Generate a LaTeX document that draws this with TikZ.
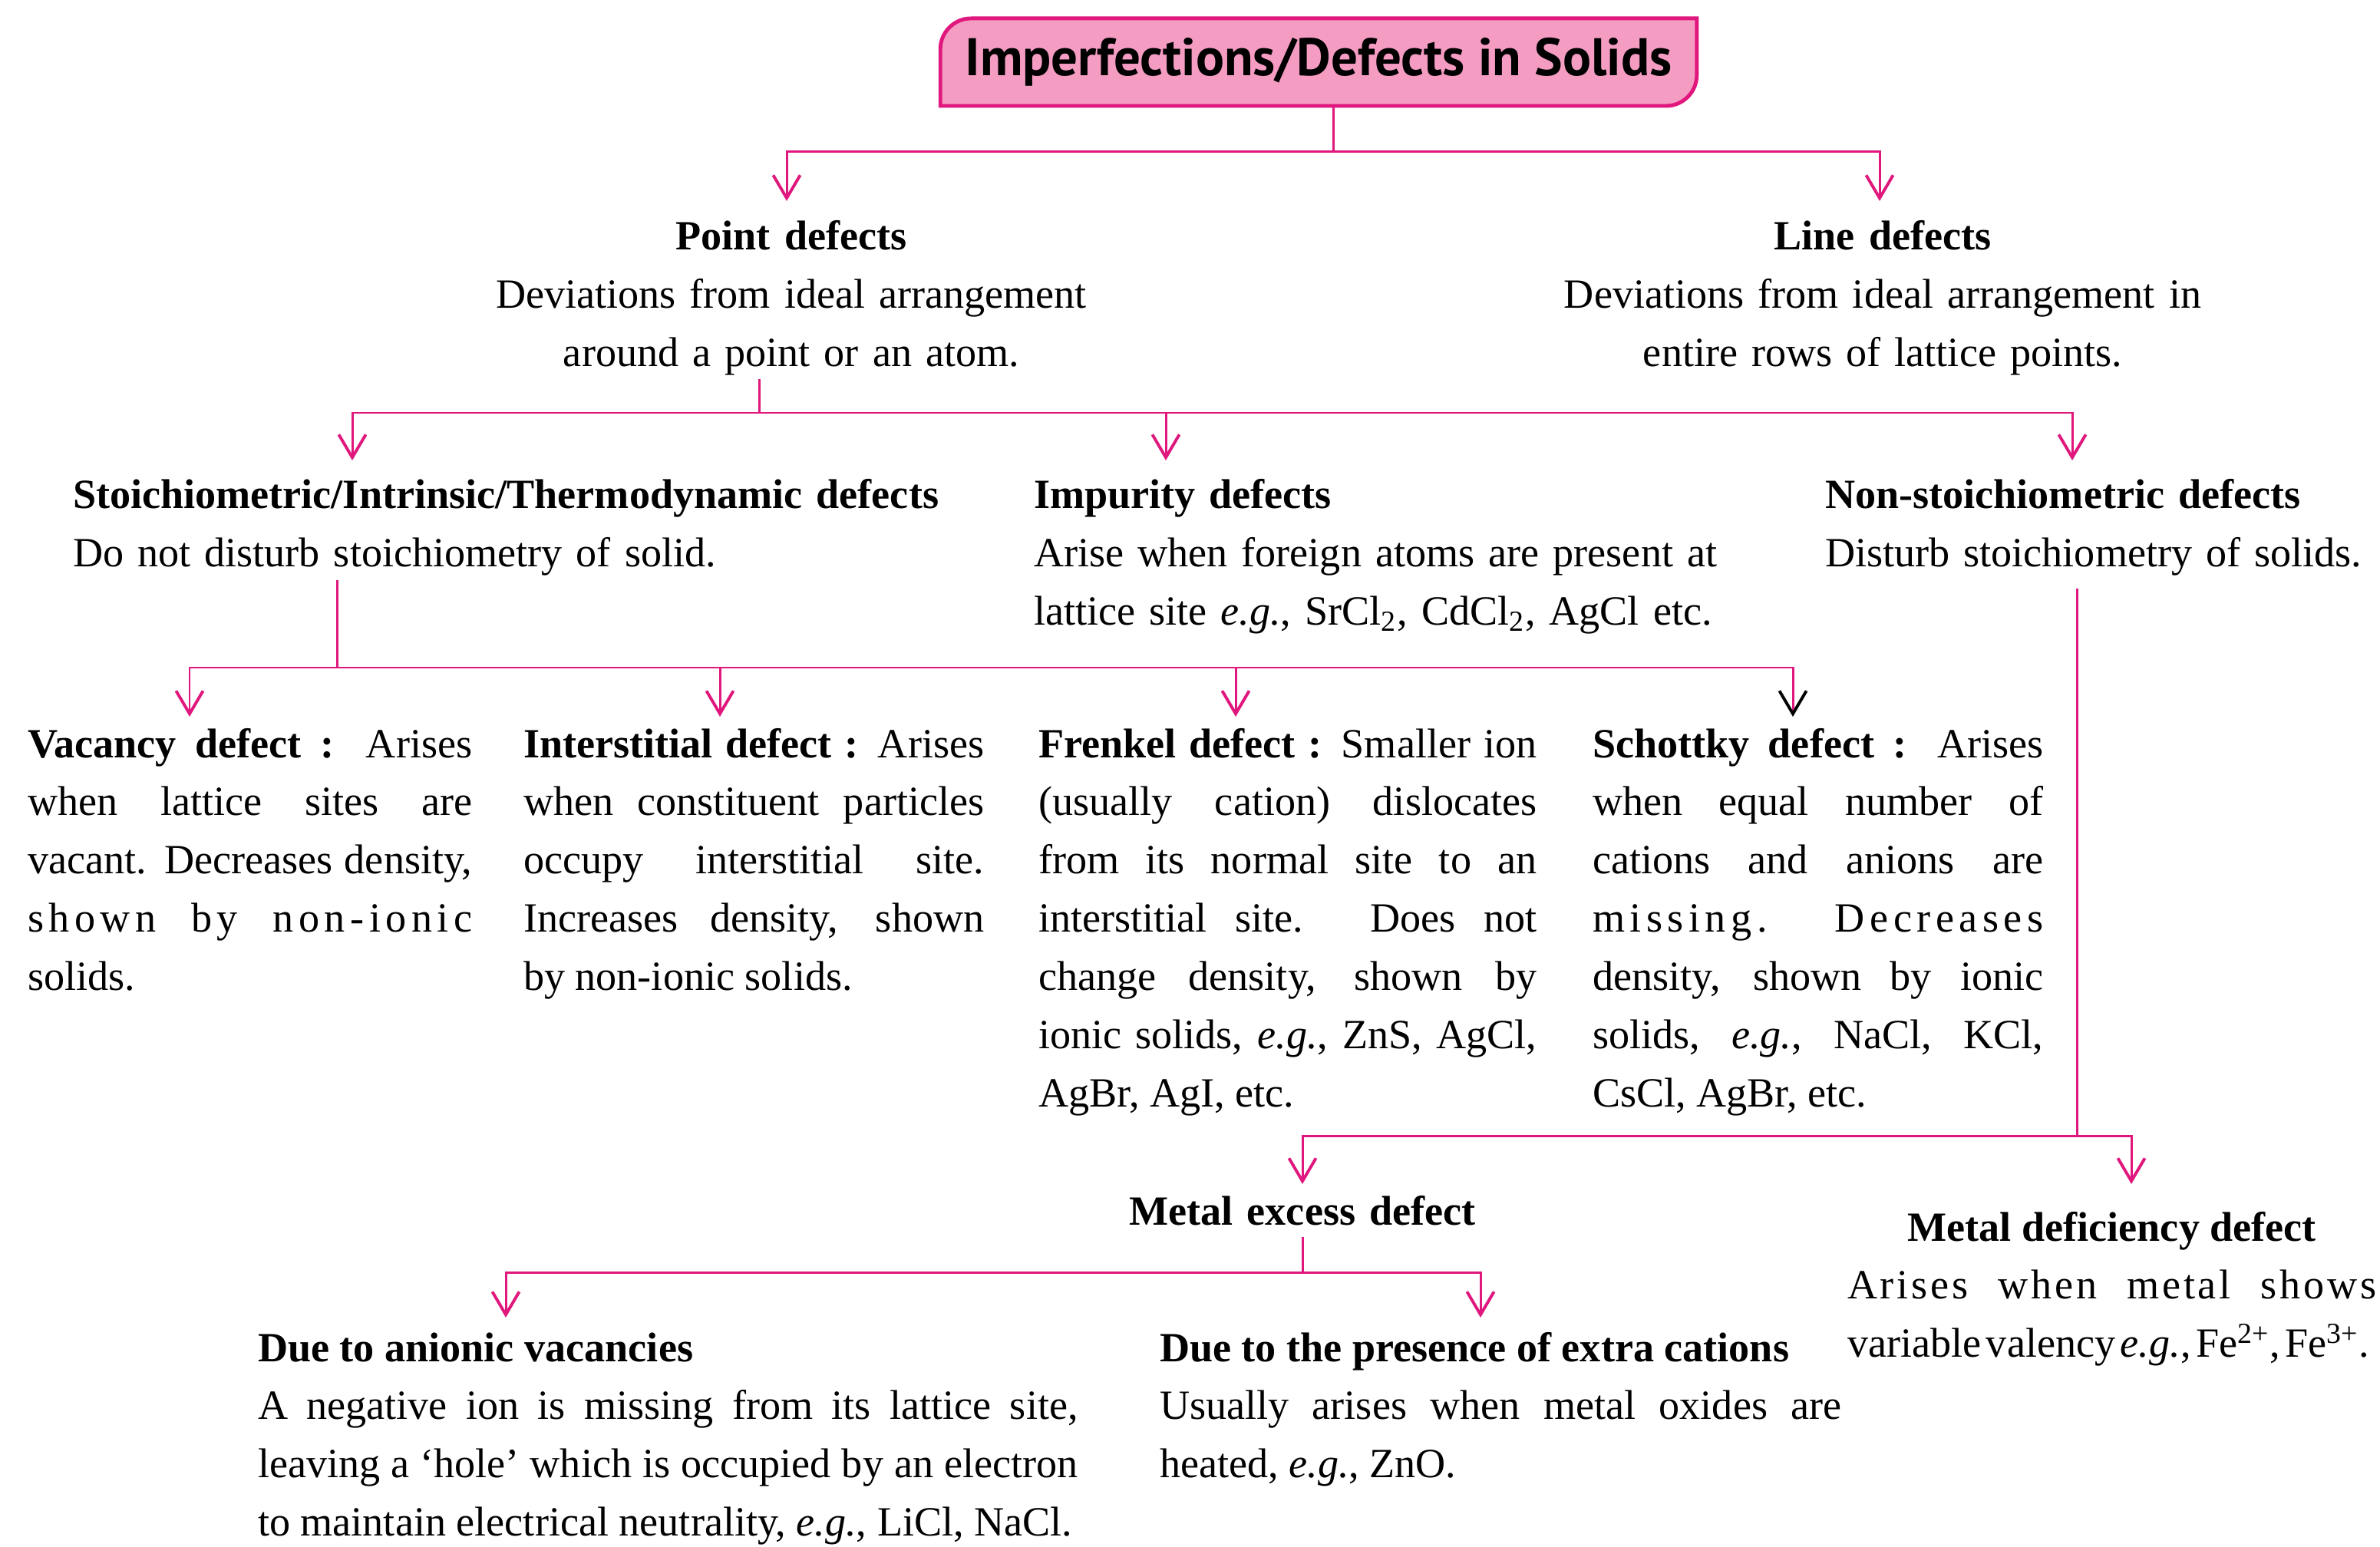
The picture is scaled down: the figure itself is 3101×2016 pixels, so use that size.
\documentclass[tikz,border=0pt]{standalone}
\usepackage{fontspec}
\setmainfont{Liberation Serif}
\newfontfamily\titlefont{PT Sans}
\usetikzlibrary{arrows.meta}
\usetikzlibrary{positioning,calc}
\usetikzlibrary{backgrounds}
\definecolor{defpink}{HTML}{E0177C}
\definecolor{titlefill}{HTML}{F59CC3}
\definecolor{titleshadow}{HTML}{FBD7E7}
\newcommand{\bodysize}{\fontsize{15.4}{21.6}\selectfont}
\newcommand{\eg}{\textit{e.g.}}
\newcommand{\spaced}[1]{{\addfontfeature{LetterSpace=12}#1}}

\begin{document}
\begin{tikzpicture}[x=0.01cm, y=-0.01cm,
         every node/.style = {inner sep=0pt, outer sep=0pt,
            font=\bodysize},
         head/.style  = {align=center, anchor=base, text width=#1},
         desc/.style  = {align=left, anchor=base west, text width=#1},
         column/.style = {align=justify, anchor=base west, text width=#1,
            execute at begin node={\tolerance=10000\hbadness=10000
            \hyphenpenalty=10000\exhyphenpenalty=10000}},
         link/.style  = {draw=defpink, line width=0.85pt},
         arr/.style   = {link, -{Straight Barb[length=8.5pt,width=10pt,
            line width=1.1pt]}},
         blackarr/.style = {link, -{Straight Barb[length=8.5pt,width=10pt,
            line width=1.1pt,color=black]}}
]
         \useasboundingbox (0,0) rectangle (3101,2016);

         % title
         \node[minimum width=9.85cm, minimum height=1.14cm,
            font=\titlefont\fontsize{19.6}{22}\selectfont\bfseries]
            (title) at (1718,81) {Imperfections/Defects in Solids};
         \begin{scope}[on background layer]
            \foreach \s/\c in {20/titleshadow!35, 14/titleshadow!65, 8/titleshadow}
               \fill[\c, shift={(\s*0.6,\s)}] (title.south west)
                  -- ($(title.north west)+(0,40)$)
                  .. controls ($(title.north west)+(0,18)$) and ($(title.north west)+(18,0)$)
                  .. ($(title.north west)+(40,0)$) -- (title.north east)
                  -- ($(title.south east)+(0,-40)$)
                  .. controls ($(title.south east)+(0,-18)$) and ($(title.south east)+(-18,0)$)
                  .. ($(title.south east)+(-40,0)$) -- cycle;
            \draw[defpink, line width=1.4pt, fill=titlefill] (title.south west)
               -- ($(title.north west)+(0,40)$)
               .. controls ($(title.north west)+(0,18)$) and ($(title.north west)+(18,0)$)
               .. ($(title.north west)+(40,0)$) -- (title.north east)
               -- ($(title.south east)+(0,-40)$)
               .. controls ($(title.south east)+(0,-18)$) and ($(title.south east)+(-18,0)$)
               .. ($(title.south east)+(-40,0)$) -- cycle;
         \end{scope}

         % point and line defects
         \node[head=8cm] (point) at (1031,326) {\textbf{Point defects}\\
            Deviations from ideal arrangement\\around a point or an atom.};
         \node[head=9cm] (line) at (2453,326) {\textbf{Line defects}\\
            Deviations from ideal arrangement in\\entire rows of lattice points.};

         % point defect classes
         \node[desc=12cm] (stoich) at (95,663)
            {\textbf{Stoichiometric/Intrinsic/Thermodynamic defects}\\
            Do not disturb stoichiometry of solid.};
         \node[desc=10cm] (impurity) at (1347,663) {\textbf{Impurity defects}\\
            Arise when foreign atoms are present at\\
            lattice site \eg, SrCl\textsubscript{2}, CdCl\textsubscript{2}, AgCl etc.};
         \node[desc=7.2cm] (nonstoich) at (2378,663)
            {\textbf{Non-stoichiometric defects}\\
            Disturb stoichiometry of solids.};

         % stoichiometric defects
         \node[column=5.79cm] (vacancy) at (36,987)
            {\textbf{Vacancy defect :} Arises\linebreak when lattice sites are\linebreak
            vacant. Decreases density,\linebreak \spaced{shown by non-ionic}\linebreak solids.};
         \node[column=6.0cm] (interstitial) at (682,987)
            {\textbf{Interstitial defect :} Arises\linebreak when constituent particles\linebreak
            occupy interstitial site.\linebreak Increases density, shown\linebreak
            by non-ionic solids.};
         \node[column=6.49cm] (frenkel) at (1353,987)
            {\textbf{Frenkel defect :} Smaller ion\linebreak (usually cation) dislocates\linebreak
            from its normal site to an\linebreak interstitial site. Does not\linebreak
            change density, shown by\linebreak ionic solids, \eg, ZnS, AgCl,\linebreak
            AgBr, AgI, etc.};
         \node[column=5.87cm] (schottky) at (2075,987)
            {\textbf{Schottky defect :} Arises\linebreak when equal number of\linebreak
            cations and anions are\linebreak \spaced{missing. Decreases}\linebreak
            density, shown by ionic\linebreak solids, \eg, NaCl, KCl,\linebreak
            CsCl, AgBr, etc.};

         % non-stoichiometric defects
         \node[head=6cm] (excess) at (1697,1596) {\textbf{Metal excess defect}};
         \node[column=6.89cm] (deficiency) at (2407,1617)
            {\centerline{\textbf{Metal deficiency defect}}
            {\addfontfeature{LetterSpace=7}Arises when metal shows}\linebreak
            {\spaceskip=0.12em variable valency \eg, Fe\textsuperscript{2+},
            Fe\textsuperscript{3+}.}};
         \node[column=10.68cm] (anionic) at (336,1774)
            {\textbf{Due to anionic vacancies}\\
            A negative ion is missing from its lattice site,\linebreak
            leaving a `hole' which is occupied by an electron\linebreak
            to maintain electrical neutrality, \eg, LiCl, NaCl.\parfillskip=0pt};
         \node[column=8.88cm] (cations) at (1511,1774)
            {\textbf{Due to the presence of extra cations}\\
            Usually arises when metal oxides are\linebreak heated, \eg, ZnO.};

         % junctions and arrow tips
         \coordinate (t2) at (989,494);
         \coordinate (t3) at (439,756);
         \coordinate (t4) at (2706,767);
         \coordinate (t5) at (1697,1612);
         \coordinate (b1) at (1737,198);
         \coordinate (b2) at (989,538);
         \coordinate (b3) at (439,870);
         \coordinate (b4) at (2706,1480);
         \coordinate (b5) at (1697,1658);
         \coordinate (pointtip)    at (1025,262);
         \coordinate (linetip)     at (2449,262);
         \coordinate (stoichtip)   at (459,600);
         \coordinate (impuritytip) at (1519,600);
         \coordinate (nonstoichtip) at (2700,600);
         \coordinate (vacancytip)  at (247,934);
         \coordinate (intertip)    at (938,934);
         \coordinate (frenkeltip)  at (1610,934);
         \coordinate (schottkytip) at (2336,934);
         \coordinate (excesstip)   at (1697,1543);
         \coordinate (deficitip)   at (2777,1543);
         \coordinate (anionictip)  at (659,1717);
         \coordinate (cationtip)   at (1929,1717);

         \draw[link] (b1 |- title.south) -- (b1);
         \draw[arr] (b1) -| (pointtip);
         \draw[arr] (b1) -| (linetip);

         \draw[link] (t2) -- (b2);
         \draw[arr] (b2) -| (stoichtip);
         \draw[arr] (b2) -| (impuritytip);
         \draw[arr] (b2) -| (nonstoichtip);

         \draw[link] (t3) -- (b3);
         \draw[arr] (b3) -| (vacancytip);
         \draw[arr] (b3) -| (intertip);
         \draw[arr] (b3) -| (frenkeltip);
         \draw[blackarr] (b3) -| (schottkytip);

         \draw[link] (t4) -- (b4);
         \draw[arr] (b4) -| (excesstip);
         \draw[arr] (b4) -| (deficitip);

         \draw[link] (t5) -- (b5);
         \draw[arr] (b5) -| (anionictip);
         \draw[arr] (b5) -| (cationtip);
\end{tikzpicture}
\end{document}
